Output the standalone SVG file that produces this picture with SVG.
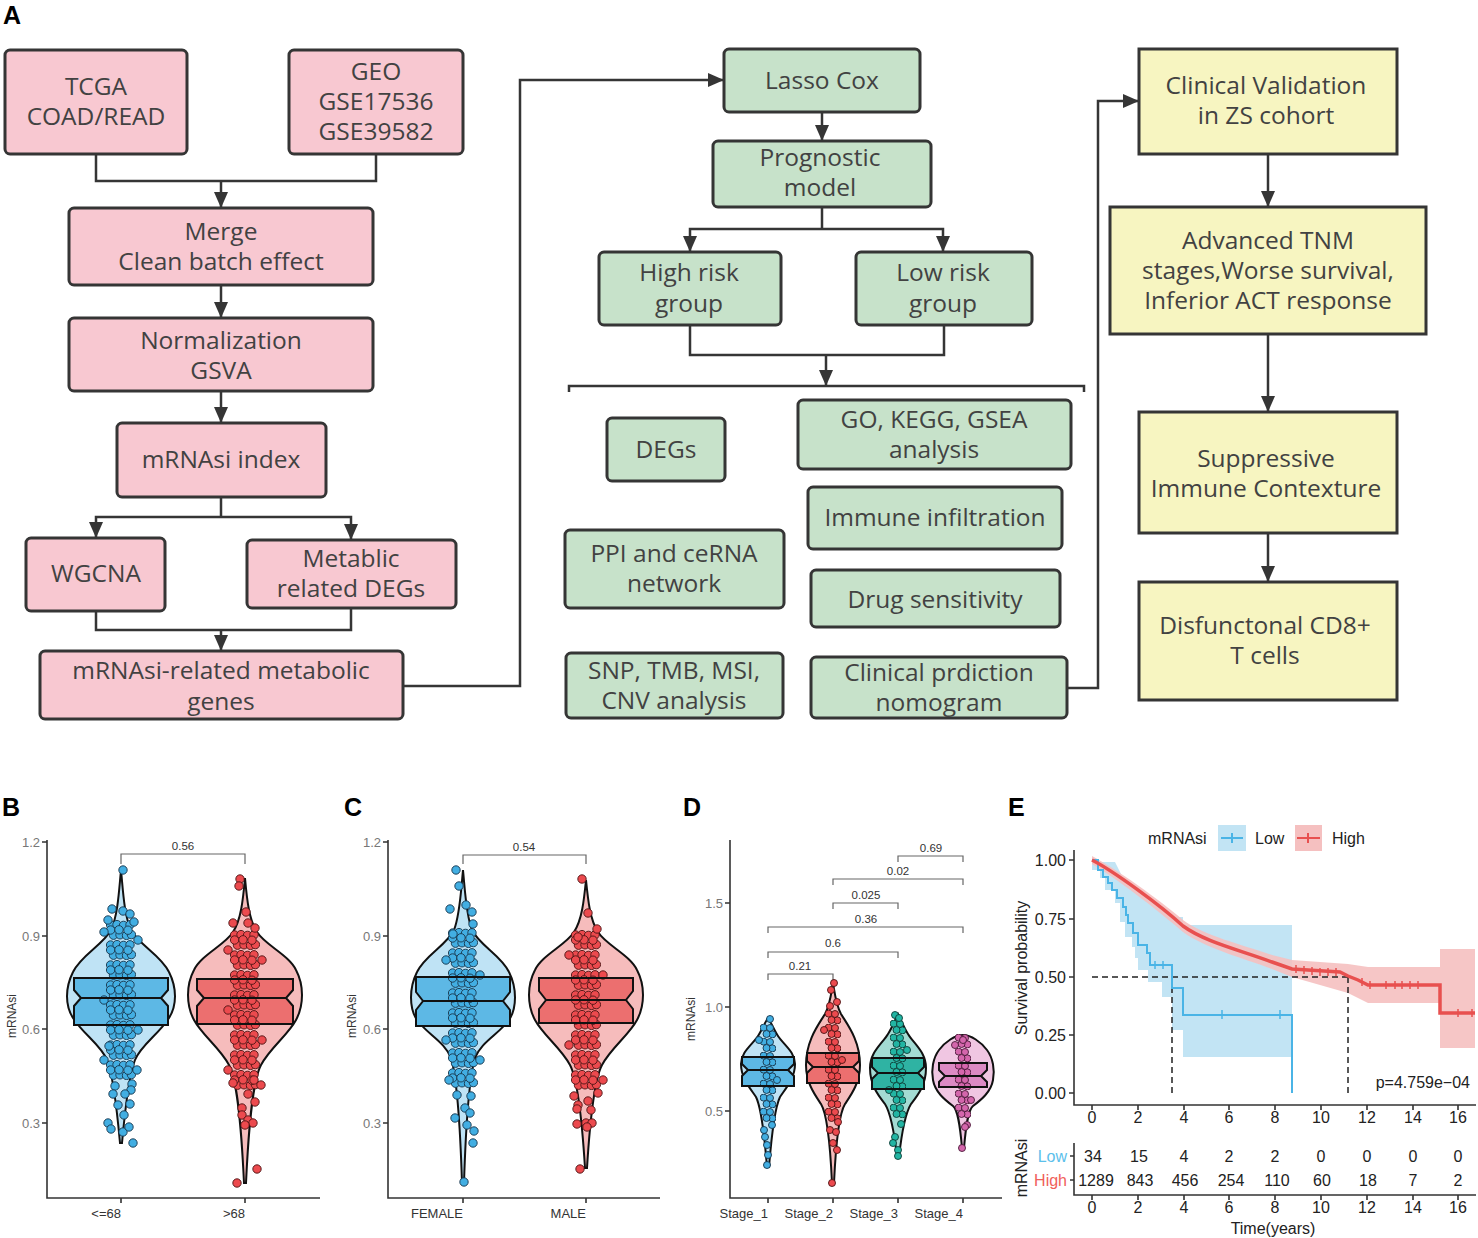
<svg xmlns="http://www.w3.org/2000/svg" xmlns:xlink="http://www.w3.org/1999/xlink" width="1478" height="1238" viewBox="0 0 1478 1238">
<style>
.pk{fill:#f8c8d1;stroke:#353535;stroke-width:3}
.gn{fill:#c7e2ca;stroke:#353535;stroke-width:3}
.yl{fill:#f7f5c1;stroke:#353535;stroke-width:3}
.t{font-family:"Open Sans","Noto Sans",sans-serif;font-size:24.5px;fill:#424242;text-anchor:middle}
.cn{fill:none;stroke:#353535;stroke-width:2.5}
.lab{font-family:"Liberation Sans",Arial,sans-serif;font-size:25px;font-weight:bold;fill:#000}
.ax{fill:none;stroke:#333;stroke-width:1.6}
.tk{font-family:"Liberation Sans",Arial,sans-serif;font-size:13px;fill:#777}
.xl{font-family:"Liberation Sans",Arial,sans-serif;font-size:13px;fill:#333;text-anchor:end}
.yt{font-family:"Liberation Sans",Arial,sans-serif;font-size:12px;fill:#333;text-anchor:middle}
.br{fill:none;stroke:#666;stroke-width:1.2}
.bl{font-family:"Liberation Sans",Arial,sans-serif;font-size:11.5px;fill:#333;text-anchor:middle}
.vb{fill:#bfe3f5;stroke:#111;stroke-width:2}
.vr{fill:#f6bcbc;stroke:#111;stroke-width:2}
.vt{fill:#a3dbd3;stroke:#111;stroke-width:2}
.vp{fill:#f0c6e2;stroke:#111;stroke-width:2}
.fb{fill:#5db8e5}
.fr{fill:#ec6f6f}
.ft{fill:#2fb3a3}
.fp{fill:#dc8ac4}
.bo{fill:none;stroke:#111;stroke-width:2}
.cb{fill:#42aee2;stroke:#15334a;stroke-width:0.9}
.cr{fill:#ec4a4e;stroke:#4a1212;stroke-width:0.9}
.ct{fill:#22b5a3;stroke:#0d3c36;stroke-width:0.9}
.cp{fill:#d466ac;stroke:#4a1838;stroke-width:0.9}
.et{font-family:"Liberation Sans",Arial,sans-serif;font-size:16px;fill:#222}
.ds{fill:none;stroke:#222;stroke-width:1.5;stroke-dasharray:6 4}
</style>
<defs>
<marker id="ah" markerWidth="16" markerHeight="14" refX="16" refY="7" orient="auto" markerUnits="userSpaceOnUse"><path d="M0,0 L16,7 L0,14 Z" fill="#353535"/></marker>
<g id="tile30">
<circle cx="4.6" cy="5" r="4.2"/><circle cx="11" cy="4.6" r="4.2"/><circle cx="17.5" cy="5.4" r="4.2"/><circle cx="24" cy="4.8" r="4.2"/>
<circle cx="7.5" cy="15.2" r="4.2"/><circle cx="14" cy="14.8" r="4.2"/><circle cx="20.5" cy="15.4" r="4.2"/><circle cx="25.4" cy="14.6" r="4.2"/><circle cx="4.6" cy="10" r="4.2"/><circle cx="22" cy="10.2" r="4.2"/><circle cx="13" cy="9.8" r="4.2"/>
</g>
<g id="tile16">
<circle cx="3.6" cy="3.6" r="3.5"/><circle cx="10" cy="4" r="3.5"/><circle cx="12.4" cy="10.4" r="3.5"/><circle cx="6.5" cy="10" r="3.5"/>
</g>
<pattern id="pB" width="30" height="20" patternUnits="userSpaceOnUse"><use href="#tile30" class="cb"/></pattern>
<pattern id="pR" width="30" height="20" patternUnits="userSpaceOnUse"><use href="#tile30" class="cr"/></pattern>
<pattern id="qB" width="16" height="14" patternUnits="userSpaceOnUse"><use href="#tile16" class="cb"/></pattern>
<pattern id="qR" width="16" height="14" patternUnits="userSpaceOnUse"><use href="#tile16" class="cr"/></pattern>
<pattern id="qT" width="16" height="14" patternUnits="userSpaceOnUse"><use href="#tile16" class="ct"/></pattern>
<pattern id="qP" width="16" height="14" patternUnits="userSpaceOnUse"><use href="#tile16" class="cp"/></pattern>
<path id="bxB1" d="M-47,978 H47 V990 L40,998 L47,1006 V1025 H-47 V1006 L-40,998 L-47,990 Z M-40,998 H40"/>
<path id="bxB2" d="M-48,979 H48 V990 L41,998 L48,1006 V1024 H-48 V1006 L-41,998 L-48,990 Z M-41,998 H41"/>
<path id="bxC1" d="M-47,977 H47 V992 L40,1001 L47,1010 V1026 H-47 V1010 L-40,1001 L-47,992 Z M-40,1001 H40"/>
<path id="bxC2" d="M-47,978 H47 V991 L40,1000 L47,1009 V1023 H-47 V1009 L-40,1000 L-47,991 Z M-40,1000 H40"/>
<path id="bxD1" d="M-26,1057 H26 V1064 L20,1070 L26,1076 V1086 H-26 V1076 L-20,1070 L-26,1064 Z M-20,1070 H20"/>
<path id="bxD2" d="M-26,1053 H26 V1061 L20,1067 L26,1073 V1083 H-26 V1073 L-20,1067 L-26,1061 Z M-20,1067 H20"/>
<path id="bxD3" d="M-26,1058 H26 V1067 L20,1073 L26,1079 V1089 H-26 V1079 L-20,1073 L-26,1067 Z M-20,1073 H20"/>
<path id="bxD4" d="M-24,1063 H24 V1070 L18,1076 L24,1082 V1087 H-24 V1082 L-18,1076 L-24,1070 Z M-18,1076 H18"/>
</defs>
<rect width="1478" height="1238" fill="#fff"/>

<text class="lab" x="3" y="24">A</text>

<g id="connectors">
<path class="cn" d="M96,154 V181 H376 V154"/>
<path class="cn" d="M221,181 V208" marker-end="url(#ah)"/>
<path class="cn" d="M221,285 V318" marker-end="url(#ah)"/>
<path class="cn" d="M221,391 V423" marker-end="url(#ah)"/>
<path class="cn" d="M221,497 V517"/>
<path class="cn" d="M221,517 H96 V538" marker-end="url(#ah)"/>
<path class="cn" d="M221,517 H351 V540" marker-end="url(#ah)"/>
<path class="cn" d="M96,611 V630 H351 V608"/>
<path class="cn" d="M221,630 V651" marker-end="url(#ah)"/>
<path class="cn" d="M403,686 H520 V80 H724" marker-end="url(#ah)"/>
<path class="cn" d="M822,112 V141" marker-end="url(#ah)"/>
<path class="cn" d="M822,207 V229"/>
<path class="cn" d="M822,229 H690 V252" marker-end="url(#ah)"/>
<path class="cn" d="M822,229 H943 V252" marker-end="url(#ah)"/>
<path class="cn" d="M690,325 V355 H944 V325"/>
<path class="cn" d="M826,355 V386" marker-end="url(#ah)"/>
<path class="cn" d="M569,392 V386 H1084 V392"/>
<path class="cn" d="M1067,688 H1098 V101 H1139" marker-end="url(#ah)"/>
<path class="cn" d="M1268,154 V207" marker-end="url(#ah)"/>
<path class="cn" d="M1268,334 V412" marker-end="url(#ah)"/>
<path class="cn" d="M1268,533 V582" marker-end="url(#ah)"/>
</g>

<g id="n-tcga"><rect class="pk" x="5" y="50" width="182" height="104" rx="5"/><text class="t" x="96" y="95">TCGA</text><text class="t" x="96" y="125">COAD/READ</text></g>
<g id="n-geo"><rect class="pk" x="289" y="50" width="174" height="104" rx="5"/><text class="t" x="376" y="80">GEO</text><text class="t" x="376" y="110">GSE17536</text><text class="t" x="376" y="140">GSE39582</text></g>
<g id="n-merge"><rect class="pk" x="69" y="208" width="304" height="77" rx="5"/><text class="t" x="221" y="240">Merge</text><text class="t" x="221" y="270">Clean batch effect</text></g>
<g id="n-norm"><rect class="pk" x="69" y="318" width="304" height="73" rx="5"/><text class="t" x="221" y="349">Normalization</text><text class="t" x="221" y="379">GSVA</text></g>
<g id="n-mrnasi"><rect class="pk" x="117" y="423" width="209" height="74" rx="5"/><text class="t" x="221" y="468">mRNAsi index</text></g>
<g id="n-wgcna"><rect class="pk" x="26" y="538" width="139" height="73" rx="5"/><text class="t" x="96" y="582">WGCNA</text></g>
<g id="n-metab"><rect class="pk" x="247" y="540" width="209" height="68" rx="5"/><text class="t" x="351" y="567">Metablic</text><text class="t" x="351" y="597">related DEGs</text></g>
<g id="n-genes"><rect class="pk" x="40" y="651" width="363" height="68" rx="5"/><text class="t" x="221" y="679">mRNAsi-related metabolic</text><text class="t" x="221" y="710">genes</text></g>

<g id="n-lasso"><rect class="gn" x="724" y="49" width="196" height="63" rx="5"/><text class="t" x="822" y="89">Lasso Cox</text></g>
<g id="n-prog"><rect class="gn" x="713" y="141" width="218" height="66" rx="5"/><text class="t" x="820" y="166">Prognostic</text><text class="t" x="820" y="196">model</text></g>
<g id="n-high"><rect class="gn" x="599" y="252" width="182" height="73" rx="5"/><text class="t" x="689" y="281">High risk</text><text class="t" x="689" y="312">group</text></g>
<g id="n-low"><rect class="gn" x="856" y="252" width="176" height="73" rx="5"/><text class="t" x="943" y="281">Low risk</text><text class="t" x="943" y="312">group</text></g>
<g id="n-degs"><rect class="gn" x="607" y="418" width="118" height="63" rx="5"/><text class="t" x="666" y="458">DEGs</text></g>
<g id="n-go"><rect class="gn" x="798" y="400" width="273" height="69" rx="5"/><text class="t" x="934" y="428">GO, KEGG, GSEA</text><text class="t" x="934" y="458">analysis</text></g>
<g id="n-immune"><rect class="gn" x="808" y="487" width="254" height="62" rx="5"/><text class="t" x="935" y="526">Immune infiltration</text></g>
<g id="n-ppi"><rect class="gn" x="565" y="530" width="219" height="78" rx="5"/><text class="t" x="674" y="562">PPI and ceRNA</text><text class="t" x="674" y="592">network</text></g>
<g id="n-drug"><rect class="gn" x="811" y="570" width="249" height="57" rx="5"/><text class="t" x="935" y="608">Drug sensitivity</text></g>
<g id="n-snp"><rect class="gn" x="566" y="653" width="217" height="65" rx="5"/><text class="t" x="674" y="679">SNP, TMB, MSI,</text><text class="t" x="674" y="709">CNV analysis</text></g>
<g id="n-nomo"><rect class="gn" x="811" y="657" width="256" height="61" rx="5"/><text class="t" x="939" y="681">Clinical prdiction</text><text class="t" x="939" y="711">nomogram</text></g>

<g id="n-clinval"><rect class="yl" x="1139" y="49" width="258" height="105"/><text class="t" x="1266" y="94">Clinical Validation</text><text class="t" x="1266" y="124">in ZS cohort</text></g>
<g id="n-tnm"><rect class="yl" x="1110" y="207" width="316" height="127"/><text class="t" x="1268" y="249">Advanced TNM</text><text class="t" x="1268" y="279">stages,Worse survival,</text><text class="t" x="1268" y="309">Inferior ACT response</text></g>
<g id="n-supp"><rect class="yl" x="1139" y="412" width="258" height="121"/><text class="t" x="1266" y="467">Suppressive</text><text class="t" x="1266" y="497">Immune Contexture</text></g>
<g id="n-cd8"><rect class="yl" x="1139" y="582" width="258" height="118"/><text class="t" x="1265" y="634">Disfunctonal CD8+</text><text class="t" x="1265" y="664">T cells</text></g>

<!-- Panel B -->
<g id="panel-B">
<text class="lab" x="2" y="816">B</text>
<path class="ax" d="M47,840 V1198 H320"/>
<path class="ax" d="M42,842 H47 M42,936 H47 M42,1029 H47 M42,1123 H47 M121,1198 V1203 M245,1198 V1203"/>
<g class="tk" text-anchor="end"><text x="40" y="847">1.2</text><text x="40" y="941">0.9</text><text x="40" y="1034">0.6</text><text x="40" y="1128">0.3</text></g>
<text class="yt" transform="translate(16,1016) rotate(-90)">mRNAsi</text>
<text class="xl" x="121" y="1218">&lt;=68</text><text class="xl" x="245" y="1218">&gt;68</text>
<path class="br" d="M121,864 V854 H245 V864"/><text class="bl" x="183" y="850">0.56</text>
<g transform="translate(121,0)">
<path class="vb" d="M0,870 C2,890 3,915 10,930 C18,945 40,955 48,972 C56,988 56,1005 48,1018 C38,1034 20,1045 14,1060 C8,1075 4,1110 1,1143 L-1,1143 C-4,1110 -8,1075 -14,1060 C-20,1045 -38,1034 -48,1018 C-56,1005 -56,988 -48,972 C-40,955 -18,945 -10,930 C-3,915 -2,890 0,870 Z"/>
<use href="#bxB1" class="fb"/>
<g transform="translate(-15,920)"><rect width="30" height="160" fill="url(#pB)"/></g>
<g class="cb"><circle cx="2" cy="870" r="4.2"/><circle cx="-9" cy="909" r="4.2"/><circle cx="2" cy="911" r="4.2"/><circle cx="9" cy="914" r="4.2"/><circle cx="-13" cy="920" r="4.2"/><circle cx="13" cy="922" r="4.2"/><circle cx="-17" cy="932" r="4.2"/><circle cx="17" cy="940" r="4.2"/><circle cx="-17" cy="1000" r="4.2"/><circle cx="17" cy="1030" r="4.2"/><circle cx="-17" cy="1060" r="4.2"/><circle cx="-12" cy="1046" r="4.2"/><circle cx="16" cy="1070" r="4.2"/><circle cx="11" cy="1084" r="4.2"/><circle cx="-6" cy="1086" r="4.2"/><circle cx="10" cy="1090" r="4.2"/><circle cx="-8" cy="1094" r="4.2"/><circle cx="4" cy="1094" r="4.2"/><circle cx="-3" cy="1105" r="4.2"/><circle cx="9" cy="1104" r="4.2"/><circle cx="3" cy="1115" r="4.2"/><circle cx="-13" cy="1123" r="4.2"/><circle cx="-10" cy="1129" r="4.2"/><circle cx="2" cy="1132" r="4.2"/><circle cx="8" cy="1127" r="4.2"/><circle cx="12" cy="1143" r="4.2"/></g>
<use href="#bxB1" class="bo"/>
</g>
<g transform="translate(245,0)">
<path class="vr" d="M0,878 C2,900 4,920 12,932 C20,945 44,955 51,970 C59,985 59,1005 51,1020 C43,1035 25,1048 16,1065 C8,1080 4,1120 1,1183 L-1,1183 C-4,1120 -8,1080 -16,1065 C-25,1048 -43,1035 -51,1020 C-59,1005 -59,985 -51,970 C-44,955 -20,945 -12,932 C-4,920 -2,900 0,878 Z"/>
<use href="#bxB2" class="fr"/>
<g transform="translate(-15,930)"><rect width="30" height="160" fill="url(#pR)"/></g>
<g class="cr"><circle cx="-5" cy="879" r="4.2"/><circle cx="-6" cy="886" r="4.2"/><circle cx="1" cy="912" r="4.2"/><circle cx="-12" cy="923" r="4.2"/><circle cx="3" cy="923" r="4.2"/><circle cx="10" cy="928" r="4.2"/><circle cx="-17" cy="950" r="4.2"/><circle cx="17" cy="960" r="4.2"/><circle cx="-17" cy="1010" r="4.2"/><circle cx="17" cy="1040" r="4.2"/><circle cx="-17" cy="1070" r="4.2"/><circle cx="16" cy="1085" r="4.2"/><circle cx="-12" cy="1083" r="4.2"/><circle cx="9" cy="1080" r="4.2"/><circle cx="3" cy="1094" r="4.2"/><circle cx="10" cy="1102" r="4.2"/><circle cx="-3" cy="1108" r="4.2"/><circle cx="-3" cy="1115" r="4.2"/><circle cx="3" cy="1120" r="4.2"/><circle cx="8" cy="1123" r="4.2"/><circle cx="0" cy="1125" r="4.2"/><circle cx="12" cy="1169" r="4.2"/><circle cx="-8" cy="1183" r="4.2"/></g>
<use href="#bxB2" class="bo"/>
</g>
</g>

<!-- Panel C -->
<g id="panel-C">
<text class="lab" x="344" y="816">C</text>
<path class="ax" d="M388,840 V1198 H660"/>
<path class="ax" d="M383,842 H388 M383,936 H388 M383,1029 H388 M383,1123 H388 M463,1198 V1203 M586,1198 V1203"/>
<g class="tk" text-anchor="end"><text x="381" y="847">1.2</text><text x="381" y="941">0.9</text><text x="381" y="1034">0.6</text><text x="381" y="1128">0.3</text></g>
<text class="yt" transform="translate(356,1016) rotate(-90)">mRNAsi</text>
<text class="xl" x="463" y="1218">FEMALE</text><text class="xl" x="586" y="1218">MALE</text>
<path class="br" d="M463,864 V855 H586 V864"/><text class="bl" x="524" y="851">0.54</text>
<g transform="translate(463,0)">
<path class="vb" d="M0,870 C2,890 3,915 9,930 C16,945 38,955 46,972 C54,988 54,1008 46,1020 C36,1034 18,1042 12,1058 C7,1075 3,1120 1,1183 L-1,1183 C-3,1120 -7,1075 -12,1058 C-18,1042 -36,1034 -46,1020 C-54,1008 -54,988 -46,972 C-38,955 -16,945 -9,930 C-3,915 -2,890 0,870 Z"/>
<use href="#bxC1" class="fb"/>
<g transform="translate(-15,928)"><rect width="30" height="160" fill="url(#pB)"/></g>
<g class="cb"><circle cx="-7" cy="870" r="4.2"/><circle cx="-4" cy="886" r="4.2"/><circle cx="-13" cy="909" r="4.2"/><circle cx="3" cy="905" r="4.2"/><circle cx="9" cy="912" r="4.2"/><circle cx="10" cy="924" r="4.2"/><circle cx="-10" cy="934" r="4.2"/><circle cx="-17" cy="960" r="4.2"/><circle cx="17" cy="975" r="4.2"/><circle cx="-17" cy="1040" r="4.2"/><circle cx="17" cy="1060" r="4.2"/><circle cx="-14" cy="1080" r="4.2"/><circle cx="-6" cy="1095" r="4.2"/><circle cx="8" cy="1096" r="4.2"/><circle cx="2" cy="1108" r="4.2"/><circle cx="-8" cy="1118" r="4.2"/><circle cx="7" cy="1113" r="4.2"/><circle cx="4" cy="1125" r="4.2"/><circle cx="11" cy="1131" r="4.2"/><circle cx="10" cy="1143" r="4.2"/><circle cx="1" cy="1182" r="4.2"/></g>
<use href="#bxC1" class="bo"/>
</g>
<g transform="translate(586,0)">
<path class="vr" d="M0,880 C2,900 4,920 12,932 C20,945 44,955 51,970 C59,985 59,1005 51,1020 C43,1035 25,1048 16,1065 C8,1080 4,1120 1,1168 L-1,1168 C-4,1120 -8,1080 -16,1065 C-25,1048 -43,1035 -51,1020 C-59,1005 -59,985 -51,970 C-44,955 -20,945 -12,932 C-4,920 -2,900 0,880 Z"/>
<use href="#bxC2" class="fr"/>
<g transform="translate(-15,930)"><rect width="30" height="160" fill="url(#pR)"/></g>
<g class="cr"><circle cx="-4" cy="879" r="4.2"/><circle cx="2" cy="913" r="4.2"/><circle cx="11" cy="929" r="4.2"/><circle cx="-8" cy="937" r="4.2"/><circle cx="-17" cy="955" r="4.2"/><circle cx="17" cy="975" r="4.2"/><circle cx="-17" cy="1045" r="4.2"/><circle cx="17" cy="1080" r="4.2"/><circle cx="12" cy="1093" r="4.2"/><circle cx="-12" cy="1096" r="4.2"/><circle cx="-8" cy="1105" r="4.2"/><circle cx="2" cy="1101" r="4.2"/><circle cx="5" cy="1110" r="4.2"/><circle cx="-9" cy="1109" r="4.2"/><circle cx="-9" cy="1124" r="4.2"/><circle cx="0" cy="1123" r="4.2"/><circle cx="6" cy="1123" r="4.2"/><circle cx="1" cy="1127" r="4.2"/><circle cx="-6" cy="1169" r="4.2"/></g>
<use href="#bxC2" class="bo"/>
</g>
</g>

<!-- Panel D -->
<g id="panel-D">
<text class="lab" x="683" y="816">D</text>
<path class="ax" d="M730,840 V1198 H1002"/>
<path class="ax" d="M725,903 H730 M725,1007 H730 M725,1111 H730 M768,1198 V1203 M833,1198 V1203 M898,1198 V1203 M963,1198 V1203"/>
<g class="tk" text-anchor="end"><text x="723" y="908">1.5</text><text x="723" y="1012">1.0</text><text x="723" y="1116">0.5</text></g>
<text class="yt" transform="translate(695,1019) rotate(-90)">mRNAsi</text>
<text class="xl" x="768" y="1218">Stage_1</text><text class="xl" x="833" y="1218">Stage_2</text><text class="xl" x="898" y="1218">Stage_3</text><text class="xl" x="963" y="1218">Stage_4</text>
<path class="br" d="M768,980 V974 H833 V980 M768,958 V952 H898 V958 M768,933 V927 H963 V933 M833,909 V903 H898 V909 M833,885 V879 H963 V885 M898,862 V856 H963 V862"/>
<g class="bl"><text x="800" y="970">0.21</text><text x="833" y="947">0.6</text><text x="866" y="923">0.36</text><text x="866" y="899">0.025</text><text x="898" y="875">0.02</text><text x="931" y="852">0.69</text></g>
<g transform="translate(768,0)">
<path class="vb" d="M0,1018 C3,1022 6,1030 10,1036 C16,1045 27,1052 27,1064 C27,1078 18,1088 12,1097 C8,1105 4,1130 1,1167 L-1,1167 C-4,1130 -8,1105 -12,1097 C-18,1088 -27,1078 -27,1064 C-27,1052 -16,1045 -10,1036 C-6,1030 -3,1022 0,1018 Z"/>
<use href="#bxD1" class="fb"/>
<g transform="translate(-8,1024)"><rect width="16" height="98" fill="url(#qB)"/></g>
<g class="cb"><circle cx="2" cy="1019" r="3.5"/><circle cx="-9" cy="1040" r="3.5"/><circle cx="9" cy="1080" r="3.5"/><circle cx="4" cy="1125" r="3.5"/><circle cx="-4" cy="1130" r="3.5"/><circle cx="-3" cy="1137" r="3.5"/><circle cx="-1" cy="1145" r="3.5"/><circle cx="0" cy="1155" r="3.5"/><circle cx="-1" cy="1165" r="3.5"/></g>
<use href="#bxD1" class="bo"/>
</g>
<g transform="translate(833,0)">
<path class="vr" d="M0,983 C2,995 3,1005 8,1014 C14,1024 27,1040 27,1065 C27,1083 18,1095 12,1104 C7,1112 3,1140 1,1183 L-1,1183 C-3,1140 -7,1112 -12,1104 C-18,1095 -27,1083 -27,1065 C-27,1040 -14,1024 -8,1014 C-3,1005 -2,995 0,983 Z"/>
<use href="#bxD2" class="fr"/>
<g transform="translate(-8,1010)"><rect width="16" height="112" fill="url(#qR)"/></g>
<g class="cr"><circle cx="1" cy="983" r="3.5"/><circle cx="-2" cy="990" r="3.5"/><circle cx="4" cy="1002" r="3.5"/><circle cx="-3" cy="1006" r="3.5"/><circle cx="-9" cy="1030" r="3.5"/><circle cx="9" cy="1060" r="3.5"/><circle cx="5" cy="1122" r="3.5"/><circle cx="-3" cy="1130" r="3.5"/><circle cx="3" cy="1132" r="3.5"/><circle cx="0" cy="1143" r="3.5"/><circle cx="4" cy="1150" r="3.5"/><circle cx="-1" cy="1183" r="3.5"/></g>
<use href="#bxD2" class="bo"/>
</g>
<g transform="translate(898,0)">
<path class="vt" d="M0,1014 C3,1020 6,1028 10,1034 C16,1044 28,1052 28,1068 C28,1085 20,1095 13,1104 C8,1112 4,1130 1,1157 L-1,1157 C-4,1130 -8,1112 -13,1104 C-20,1095 -28,1085 -28,1068 C-28,1052 -16,1044 -10,1034 C-6,1028 -3,1020 0,1014 Z"/>
<use href="#bxD3" class="ft"/>
<g transform="translate(-8,1020)"><rect width="16" height="98" fill="url(#qT)"/></g>
<g class="ct"><circle cx="-3" cy="1015" r="3.5"/><circle cx="1" cy="1018" r="3.5"/><circle cx="9" cy="1050" r="3.5"/><circle cx="-9" cy="1090" r="3.5"/><circle cx="3" cy="1124" r="3.5"/><circle cx="-3" cy="1137" r="3.5"/><circle cx="-5" cy="1143" r="3.5"/><circle cx="0" cy="1150" r="3.5"/><circle cx="0" cy="1156" r="3.5"/></g>
<use href="#bxD3" class="bo"/>
</g>
<g transform="translate(963,0)">
<path class="vp" d="M0,1035 C8,1035 18,1042 24,1050 C30,1058 32,1070 30,1080 C28,1092 18,1100 10,1106 C5,1110 3,1125 1,1148 L-1,1148 C-3,1125 -5,1110 -10,1106 C-18,1100 -28,1092 -30,1080 C-32,1070 -30,1058 -24,1050 C-18,1042 -8,1035 0,1035 Z"/>
<use href="#bxD4" class="fp"/>
<g transform="translate(-8,1034)"><rect width="16" height="84" fill="url(#qP)"/></g>
<g class="cp"><circle cx="0" cy="1040" r="3.5"/><circle cx="-8" cy="1045" r="3.5"/><circle cx="8" cy="1100" r="3.5"/><circle cx="4" cy="1125" r="3.5"/><circle cx="2" cy="1127" r="3.5"/><circle cx="-1" cy="1148" r="3.5"/></g>
<use href="#bxD4" class="bo"/>
</g>
</g>

<!-- Panel E -->
<g id="panel-E">
<text class="lab" x="1008" y="816">E</text>
<text class="et" x="1148" y="844">mRNAsi</text>
<rect x="1218" y="825" width="28" height="26" fill="#c2e4f4"/>
<path d="M1221,838 H1243 M1232,833 V843" stroke="#4ab4e6" stroke-width="2" fill="none"/>
<text class="et" x="1255" y="844">Low</text>
<rect x="1295" y="825" width="27" height="26" fill="#f5c0c0"/>
<path d="M1297,838 H1320 M1308,833 V843" stroke="#e8504f" stroke-width="2" fill="none"/>
<text class="et" x="1332" y="844">High</text>
<path d="M1092,862 H1115 L1125,882 L1138,890 L1148,900 L1172,917 H1183 V925 H1292 V1057 H1183 V1030 H1172 V997 H1162 V982 H1148 V970 H1138 V958 H1135 V947 H1132 V937 H1125 V922 H1120 V903 H1115 V890 H1105 V878 H1100 V870 H1092 Z" fill="#c2e4f4"/>
<path d="M1092,856 C1115,868 1160,900 1183,920 C1205,936 1240,944 1272,955 L1292,960 L1348,964 L1368,967 H1440 V949 H1475 V1048 H1440 V1003 H1368 L1348,993 L1292,977 L1272,969 C1240,957 1205,948 1183,932 C1160,912 1115,877 1092,864 Z" fill="#f5c0c0" opacity="0.9"/>
<path class="ds" d="M1092,977 H1348 M1172,977 V1093 M1348,977 V1093"/>
<path d="M1092,860 H1098 V870 H1103 V877 H1108 V883 H1112 V890 H1117 V898 H1123 V907 H1126 V915 H1128 V923 H1133 V933 H1138 V945 H1147 V953 H1150 V965 H1172 V988 H1183 V1015 H1292 V1093" fill="none" stroke="#4ab4e6" stroke-width="2"/>
<path d="M1155,961 V969 M1163,961 V969 M1222,1010 V1019 M1280,1010 V1019" stroke="#4ab4e6" stroke-width="1.5"/>
<path d="M1092,860 C1115,872 1160,905 1183,926 C1205,942 1240,950 1272,962 L1292,969 L1340,972 L1348,976 L1358,980 L1368,985 H1440 V1013 H1475" fill="none" stroke="#e8504f" stroke-width="3.5"/>
<path d="M1296,965 V973 M1304,966 V974 M1312,967 V975 M1320,968 V976 M1328,968 V976 M1336,968 V976 M1362,978 V986 M1370,981 V989 M1386,981 V989 M1395,981 V989 M1402,981 V989 M1410,981 V989 M1418,981 V989 M1458,1009 V1017 M1472,1009 V1017" stroke="#e8504f" stroke-width="1.5"/>
<path class="ax" d="M1074,850 V1105 H1476"/>
<path class="ax" d="M1069,860 H1074 M1069,919 H1074 M1069,977 H1074 M1069,1035 H1074 M1069,1093 H1074 M1092,1105 V1110 M1138,1105 V1110 M1184,1105 V1110 M1229,1105 V1110 M1275,1105 V1110 M1321,1105 V1110 M1367,1105 V1110 M1413,1105 V1110 M1458,1105 V1110"/>
<g class="et" text-anchor="end"><text x="1066" y="866">1.00</text><text x="1066" y="925">0.75</text><text x="1066" y="983">0.50</text><text x="1066" y="1041">0.25</text><text x="1066" y="1099">0.00</text></g>
<g class="et" text-anchor="middle"><text x="1092" y="1123">0</text><text x="1138" y="1123">2</text><text x="1184" y="1123">4</text><text x="1229" y="1123">6</text><text x="1275" y="1123">8</text><text x="1321" y="1123">10</text><text x="1367" y="1123">12</text><text x="1413" y="1123">14</text><text x="1458" y="1123">16</text></g>
<text class="et" text-anchor="middle" transform="translate(1027,968) rotate(-90)">Survival probability</text>
<text class="et" x="1470" y="1088" text-anchor="end">p=4.759e−04</text>
<path class="ax" d="M1074,1143 V1195 H1476"/>
<path class="ax" d="M1070,1156 H1074 M1070,1180 H1074 M1092,1195 V1200 M1138,1195 V1200 M1184,1195 V1200 M1229,1195 V1200 M1275,1195 V1200 M1321,1195 V1200 M1367,1195 V1200 M1413,1195 V1200 M1458,1195 V1200"/>
<text class="et" text-anchor="middle" transform="translate(1027,1168) rotate(-90)">mRNAsi</text>
<text class="et" x="1067" y="1162" text-anchor="end" style="fill:#5bc0eb">Low</text>
<text class="et" x="1067" y="1186" text-anchor="end" style="fill:#f0605a">High</text>
<g class="et" text-anchor="middle"><text x="1093" y="1162">34</text><text x="1139" y="1162">15</text><text x="1184" y="1162">4</text><text x="1229" y="1162">2</text><text x="1275" y="1162">2</text><text x="1321" y="1162">0</text><text x="1367" y="1162">0</text><text x="1413" y="1162">0</text><text x="1458" y="1162">0</text></g>
<g class="et" text-anchor="middle"><text x="1096" y="1186">1289</text><text x="1140" y="1186">843</text><text x="1185" y="1186">456</text><text x="1231" y="1186">254</text><text x="1277" y="1186">110</text><text x="1322" y="1186">60</text><text x="1368" y="1186">18</text><text x="1413" y="1186">7</text><text x="1458" y="1186">2</text></g>
<g class="et" text-anchor="middle"><text x="1092" y="1213">0</text><text x="1138" y="1213">2</text><text x="1184" y="1213">4</text><text x="1229" y="1213">6</text><text x="1275" y="1213">8</text><text x="1321" y="1213">10</text><text x="1367" y="1213">12</text><text x="1413" y="1213">14</text><text x="1458" y="1213">16</text></g>
<text class="et" x="1273" y="1234" text-anchor="middle">Time(years)</text>
</g>
</svg>
